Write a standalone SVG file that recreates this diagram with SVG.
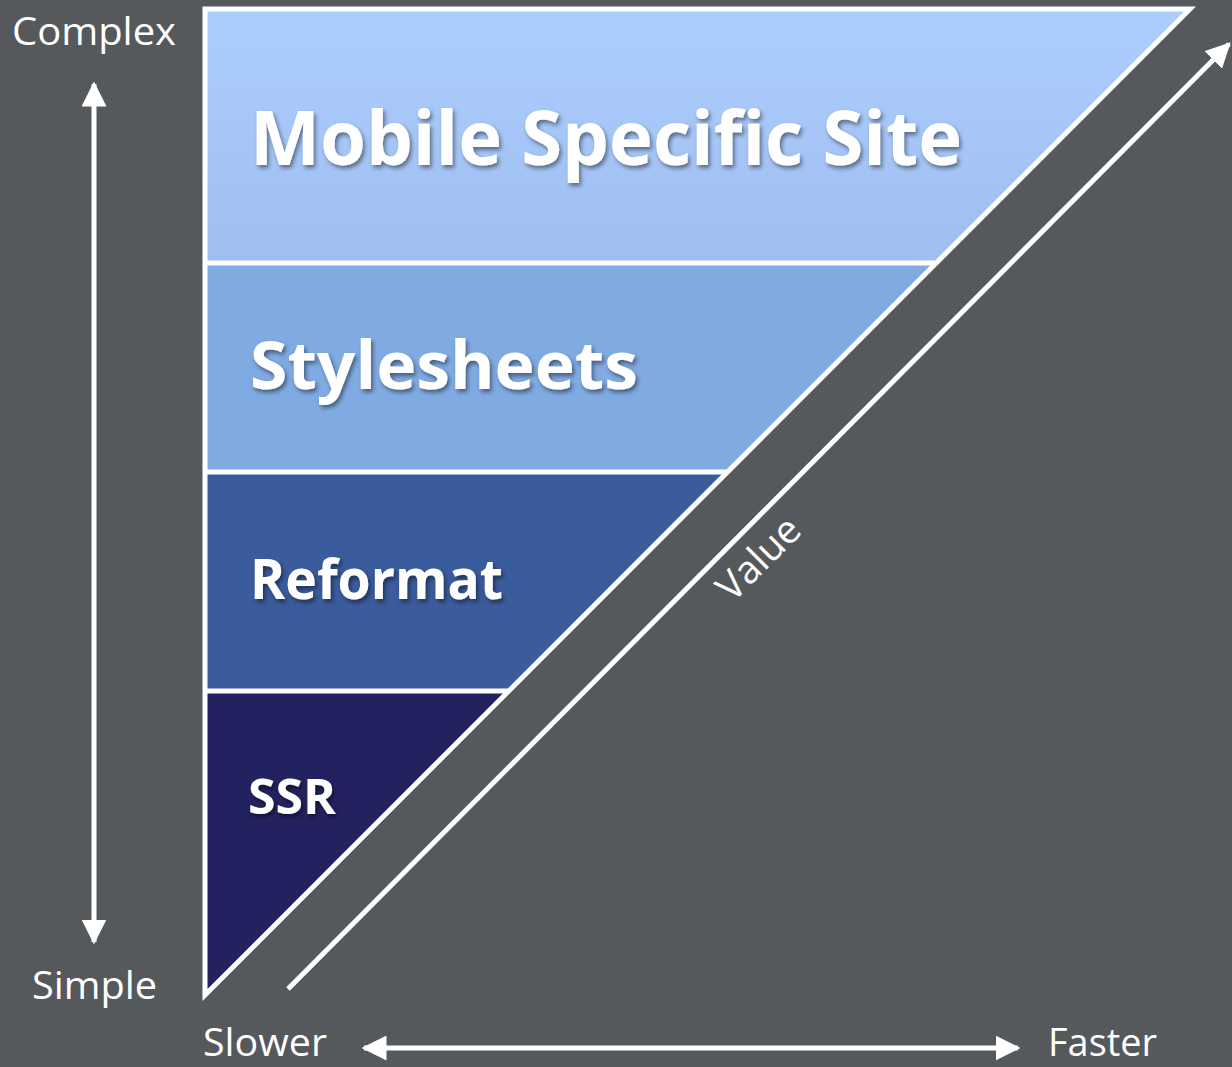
<svg xmlns="http://www.w3.org/2000/svg" width="1232" height="1067" viewBox="0 0 1232 1067">
<defs>
<linearGradient id="gTop" x1="0" y1="0" x2="0" y2="1">
<stop offset="0" stop-color="#accefd"/>
<stop offset="1" stop-color="#9fbef1"/>
</linearGradient>
<filter id="sh" x="-10%" y="-30%" width="120%" height="160%">
<feDropShadow dx="2" dy="3" stdDeviation="2" flood-color="#000" flood-opacity="0.45"/>
</filter>
<marker id="ah" viewBox="0 0 10 10" refX="9" refY="5" markerWidth="5" markerHeight="5" markerUnits="strokeWidth" orient="auto-start-reverse">
<path d="M0,0 L10,5 L0,10 Z" fill="#fff"/>
</marker>
</defs>
<style>
.ax{font-family:"Open Sans","DejaVu Sans",sans-serif;font-size:39px;fill:#fff}
.lb{font-family:"Open Sans","DejaVu Sans",sans-serif;font-weight:bold;fill:#fff;filter:url(#sh)}
.ln{stroke:#fff;stroke-width:5;fill:none}
</style>
<rect width="1232" height="1067" fill="#55595c"/>
<g id="bands">
<g id="mobile">
<polygon points="205,9 1190,9 936,263 205,263" fill="url(#gTop)"/>
<text class="lb" x="250" y="165" font-size="76" textLength="712" lengthAdjust="spacingAndGlyphs">Mobile Specific Site</text>
</g>
<g id="stylesheets">
<polygon points="205,263 936,263 727,472 205,472" fill="#80aae2"/>
<text class="lb" x="250" y="389" font-size="67" textLength="388" lengthAdjust="spacingAndGlyphs">Stylesheets</text>
</g>
<g id="reformat">
<polygon points="205,472 727,472 508,691 205,691" fill="#3a5b9c"/>
<text class="lb" x="250" y="599" font-size="55" textLength="253" lengthAdjust="spacingAndGlyphs">Reformat</text>
</g>
<g id="ssr">
<polygon points="205,691 508,691 205,995" fill="#232260"/>
<text class="lb" x="248" y="814" font-size="48" textLength="88" lengthAdjust="spacingAndGlyphs">SSR</text>
</g>
</g>
<g id="connectors">
<polygon points="205,9 1190,9 205,995" class="ln" stroke-width="6" stroke-linejoin="miter"/>
<line class="ln" x1="205" y1="263" x2="936" y2="263" stroke-width="4"/>
<line class="ln" x1="205" y1="472" x2="727" y2="472" stroke-width="4"/>
<line class="ln" x1="205" y1="691" x2="508" y2="691" stroke-width="4"/>
<line class="ln" x1="288" y1="989" x2="1229" y2="44" marker-end="url(#ah)"/>
<line class="ln" x1="94" y1="84" x2="94" y2="942" marker-start="url(#ah)" marker-end="url(#ah)"/>
<line class="ln" x1="364" y1="1048" x2="1018" y2="1048" marker-start="url(#ah)" marker-end="url(#ah)"/>
</g>
<g id="axis-labels">
<text class="ax" x="12" y="45" textLength="164" lengthAdjust="spacingAndGlyphs">Complex</text>
<text class="ax" x="32" y="999" textLength="125" lengthAdjust="spacingAndGlyphs">Simple</text>
<text class="ax" x="203" y="1056" textLength="124" lengthAdjust="spacingAndGlyphs">Slower</text>
<text class="ax" x="1048" y="1056" textLength="109" lengthAdjust="spacingAndGlyphs">Faster</text>
<text class="ax" x="0" y="0" text-anchor="middle" transform="translate(768,568) rotate(-45)">Value</text>
</g>
</svg>
